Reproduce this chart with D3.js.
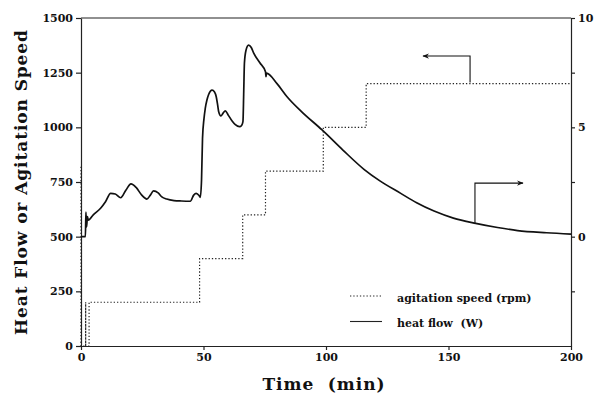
<!DOCTYPE html>
<html>
<head>
<meta charset="utf-8">
<script src="https://cdn.jsdelivr.net/npm/d3@7"></script>
<style>
  body { margin: 0; background: #fff; }
  svg text { font-family: "DejaVu Serif", serif; font-weight: bold; fill: #111; }
  .axis path, .axis line { stroke: #222; stroke-width: 1.2; }
  .axis text { font-size: 11px; font-family: "DejaVu Serif", serif; font-weight: bold; }
</style>
</head>
<body>
<svg id="chart" width="598" height="401"></svg>
<script>
// ----- data -----
const heatTime = [0, 1.8, 2.0, 2.3, 2.6, 3, 5, 8, 10, 12.1, 14, 16.2, 18.3, 20.4, 22.5, 24.8, 26.9, 28.3, 29.6, 31.5, 33, 35, 38, 41, 44.6, 46, 47, 48.2, 48.7,
  49.2, 49.6, 50.2, 50.7, 51.4, 52.1, 53.5, 54.5, 55.2, 55.8, 56.2, 57.1, 58, 58.9, 60, 61.6, 63, 64.7, 65.6, 66.1,
  66.4, 66.7, 67.3, 68.4, 69.5, 70.5, 73, 75.3, 75.5, 75.7, 80, 84.1, 90, 98.4, 107, 115.5, 122, 130.5, 137, 144.1, 152, 161.1, 170, 178.2, 190, 200];
const heatFlow = [500, 500, 612, 545, 592, 576, 600, 630, 660, 698, 695, 678, 712, 741, 725, 690, 672, 690, 709, 700, 682, 672, 665, 663, 662, 690, 698, 688, 680,
  760, 950, 1040, 1085, 1125, 1150, 1170, 1162, 1140, 1100, 1071, 1052, 1065, 1075, 1058, 1030, 1012, 1003, 1010, 1026,
  1150, 1293, 1350, 1376, 1365, 1339, 1295, 1254, 1232, 1248, 1200, 1140, 1072, 988, 895, 808, 755, 698, 655, 617, 585, 561, 542, 528, 518, 512];

const agitTime  = [0, 0, 1.9, 1.9, 1.9, 3.3, 3.3, 48.4, 48.4, 66, 66, 75.3, 75.3, 98.9, 98.9, 116.4, 116.4, 200];
const agitSpeed = [820, 0, 0, 200, 0, 0, 200, 200, 400, 400, 600, 600, 800, 800, 1000, 1000, 1200, 1200];

const xTicks = [0, 50, 100, 150, 200];
const yTicks = [0, 250, 500, 750, 1000, 1250, 1500];
const rightTicks = [-2.5, 0, 2.5, 5, 7.5, 10];
const rightLabels = [0, 5, 10];

// arrows: [t, value] corner points (left axis units)
const arrowLeft  = [[158.8, 1205], [158.8, 1326], [139.6, 1326]];
const arrowRight = [[160.8, 561], [160.8, 745], [180.4, 745]];

const legendItems = ["agitation speed (rpm)", "heat flow  (W)"];

// ----- setup -----
const svg = d3.select("svg#chart");
const margin = {left: 81, right: 27, top: 18, bottom: 55};
const width = +svg.attr("width");
const height = +svg.attr("height");

const x = d3.scaleLinear().domain([0, 200]).range([margin.left, width - margin.right]);
const y = d3.scaleLinear().domain([0, 1500]).range([height - margin.bottom, margin.top]);
const yRight = d3.scaleLinear().domain([-5, 10]).range([height - margin.bottom, margin.top]);

// top border
svg.append("line")
   .attr("x1", x(0)).attr("x2", x(200))
   .attr("y1", y(1500)).attr("y2", y(1500))
   .attr("stroke", "#222").attr("stroke-width", 1.2);

// axes
svg.append("g").attr("class", "axis")
   .attr("transform", "translate(0," + y(0) + ")")
   .call(d3.axisBottom(x).tickValues(xTicks).tickSize(4).tickSizeOuter(0).tickFormat(d3.format("d")));

svg.append("g").attr("class", "axis")
   .attr("transform", "translate(" + x(0) + ",0)")
   .call(d3.axisLeft(y).tickValues(yTicks).tickSize(5).tickSizeOuter(0).tickFormat(d3.format("d")));

svg.append("g").attr("class", "axis")
   .attr("transform", "translate(" + x(200) + ",0)")
   .call(d3.axisRight(yRight).tickValues(rightTicks).tickSize(4).tickSizeOuter(0)
           .tickFormat(d => rightLabels.includes(d) ? d : ""));

// agitation speed, dotted
const agitData = agitTime.map((t, i) => [t, agitSpeed[i]]);
svg.append("path")
   .datum(agitData)
   .attr("fill", "none")
   .attr("stroke", "#222")
   .attr("stroke-width", 1.2)
   .attr("stroke-dasharray", "1.3,2")
   .attr("d", d3.line().x(d => x(d[0])).y(d => y(d[1])));

// heat flow, solid
const heatData = heatTime.map((t, i) => [t, heatFlow[i]]);
svg.append("path")
   .datum(heatData)
   .attr("fill", "none")
   .attr("stroke", "#111")
   .attr("stroke-width", 1.7)
   .attr("stroke-linejoin", "round")
   .attr("d", d3.line().x(d => x(d[0])).y(d => y(d[1])).curve(d3.curveMonotoneX));

// arrows
const defs = svg.append("defs");
defs.append("marker")
    .attr("id", "head")
    .attr("viewBox", "0 0 10 10")
    .attr("refX", 9).attr("refY", 5)
    .attr("markerWidth", 9).attr("markerHeight", 6)
    .attr("orient", "auto")
    .append("path")
    .attr("d", "M0,1 L10,5 L0,9 L3,5 Z")
    .attr("fill", "#111");

[arrowLeft, arrowRight].forEach(a => {
    svg.append("path")
       .datum(a)
       .attr("fill", "none")
       .attr("stroke", "#111")
       .attr("stroke-width", 1.1)
       .attr("marker-end", "url(#head)")
       .attr("d", d3.line().x(d => x(d[0])).y(d => y(d[1])));
});

// legend
const legend = svg.append("g").attr("transform", "translate(350,296)");
legend.append("line").attr("x1", 0).attr("x2", 32).attr("y1", 0).attr("y2", 0)
      .attr("stroke", "#222").attr("stroke-width", 1.1).attr("stroke-dasharray", "1.3,2");
legend.append("line").attr("x1", 0).attr("x2", 32).attr("y1", 25.5).attr("y2", 25.5)
      .attr("stroke", "#222").attr("stroke-width", 1.1);
legend.selectAll("text.leg").data(legendItems)
      .join("text")
      .attr("class", "leg")
      .attr("x", 47)
      .attr("y", (d, i) => 5.5 + i * 25)
      .style("font-size", "11px")
      .style("white-space", "pre")
      .text(d => d);

// titles
svg.append("text")
   .attr("x", 323.5).attr("y", 390)
   .attr("text-anchor", "middle")
   .attr("textLength", 122).attr("lengthAdjust", "spacing")
   .style("font-size", "17px")
   .style("white-space", "pre")
   .text("Time  (min)");

svg.append("text")
   .attr("transform", "translate(27,182.5) rotate(-90)")
   .attr("text-anchor", "middle")
   .attr("textLength", 305).attr("lengthAdjust", "spacing")
   .style("font-size", "17px")
   .text("Heat Flow or Agitation Speed");
</script>
</body>
</html>
